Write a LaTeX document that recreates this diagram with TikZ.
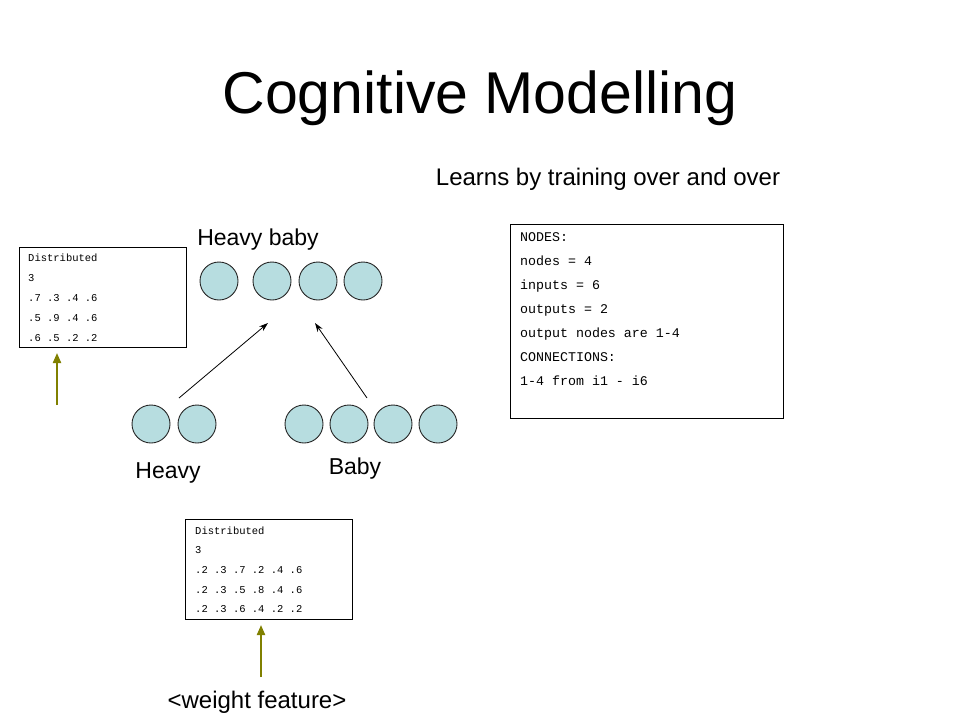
\documentclass[tikz,border=0pt]{standalone}
\usepackage{fontspec}
\setmainfont{Liberation Sans}
\newfontfamily\monof{Liberation Mono}
\usetikzlibrary{arrows.meta}
\definecolor{neuronfill}{RGB}{183,221,224}
\definecolor{olivearrow}{RGB}{128,128,0}
\begin{document}
\begin{tikzpicture}[x=1pt,y=-1pt,
  neuron/.style={circle,draw=black!85,fill=neuronfill,line width=0.9pt,minimum size=38pt,inner sep=0pt},
  label24/.style={font=\fontsize{24}{28}\selectfont,inner sep=0pt,anchor=base},
  datbox/.style={draw=black,line width=0.9pt,inner sep=0pt,anchor=north west},
  dattext/.style={inner sep=0pt,anchor=north west,align=left},
  link/.style={line width=0.8pt,-{Stealth[length=9pt,width=6pt]}},
  feed/.style={olivearrow,line width=2pt,-{Triangle[length=10pt,width=8pt]}}]
\useasboundingbox (0,0) rectangle (960,720);
\fill[white] (0,0) rectangle (960,720);

% title
\node[font=\fontsize{59}{65}\selectfont,inner sep=0pt,anchor=base] (title) at (480,113) {Cognitive Modelling};
\node[label24] (learns) at (608,185) {Learns by training over and over};

% neurons
\node[neuron] (t1) at (219,281) {};
\node[neuron] (t2) at (272,281) {};
\node[neuron] (t3) at (318,281) {};
\node[neuron] (t4) at (363,281) {};
\node[neuron] (h1) at (151,424) {};
\node[neuron] (h2) at (197,424) {};
\node[neuron] (b1) at (304,424) {};
\node[neuron] (b2) at (349,424) {};
\node[neuron] (b3) at (393,424) {};
\node[neuron] (b4) at (438,424) {};

\node[label24,font=\fontsize{23}{28}\selectfont] (lheavybaby) at (258,245) {Heavy baby};
\node[label24,font=\fontsize{23}{28}\selectfont] (lheavy) at (168,478) {Heavy};
\node[label24,font=\fontsize{23}{28}\selectfont] (lbaby) at (355,474) {Baby};

% arrows between layers
\coordinate (a1s) at (179,398);
\coordinate (a1e) at (268,323);
\coordinate (a2s) at (367,398);
\coordinate (a2e) at (315,323);
\draw[link] (a1s) -- (a1e);
\draw[link] (a2s) -- (a2e);

% left box
\node[datbox,minimum width=167pt,minimum height=100pt] (lbox) at (19,247) {};
\node[dattext,font=\monof\fontsize{10.5}{20}\selectfont] (ltext) at (28,253.5)
  {Distributed\\3\\.7 .3 .4 .6\\.5 .9 .4 .6\\.6 .5 .2 .2};
\coordinate (lf) at (57,405);
\coordinate (lfe) at (57,353);
\draw[feed] (lf) -- (lfe);

% bottom box
\node[datbox,minimum width=167pt,minimum height=100pt] (bbox) at (185,519) {};
\node[dattext,font=\monof\fontsize{10.5}{19.6}\selectfont] (btext) at (195,526.5)
  {Distributed\\3\\.2 .3 .7 .2 .4 .6\\.2 .3 .5 .8 .4 .6\\.2 .3 .6 .4 .2 .2};
\node[label24] (weight) at (257,708) {<weight feature>};
\coordinate (bf) at (261,677);
\coordinate (bfe) at (261,625);
\draw[feed] (bf) -- (bfe);

% right box
\node[datbox,minimum width=273pt,minimum height=194pt] (rbox) at (510,224) {};
\node[dattext,font=\monof\fontsize{13.3}{24}\selectfont] (rtext) at (520,232.5)
  {NODES:\\nodes = 4\\inputs = 6\\outputs = 2\\output nodes are 1-4\\CONNECTIONS:\\1-4 from i1 - i6};
\end{tikzpicture}
\end{document}
